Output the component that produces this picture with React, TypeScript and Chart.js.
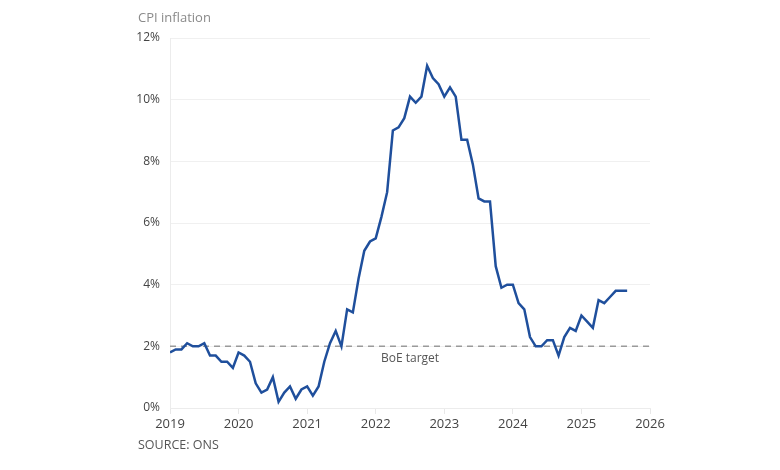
import React, { useEffect, useRef } from "react";
import { Chart, registerables } from "chart.js";

Chart.register(...registerables);

const startYear = 2019;
const cpi: number[] = [
  // 2019
  1.8, 1.9, 1.9, 2.1, 2.0, 2.0, 2.1, 1.7, 1.7, 1.5, 1.5, 1.3,
  // 2020
  1.8, 1.7, 1.5, 0.8, 0.5, 0.6, 1.0, 0.2, 0.5, 0.7, 0.3, 0.6,
  // 2021
  0.7, 0.4, 0.7, 1.5, 2.1, 2.5, 2.0, 3.2, 3.1, 4.2, 5.1, 5.4,
  // 2022
  5.5, 6.2, 7.0, 9.0, 9.1, 9.4, 10.1, 9.9, 10.1, 11.1, 10.7, 10.5,
  // 2023
  10.1, 10.4, 10.1, 8.7, 8.7, 7.9, 6.8, 6.7, 6.7, 4.6, 3.9, 4.0,
  // 2024
  4.0, 3.4, 3.2, 2.3, 2.0, 2.0, 2.2, 2.2, 1.7, 2.3, 2.6, 2.5,
  // 2025
  3.0, 2.8, 2.6, 3.5, 3.4, 3.6, 3.8, 3.8, 3.8,
];
const xTicks: number[] = [2019, 2020, 2021, 2022, 2023, 2024, 2025, 2026];
const yTicks: number[] = [0, 2, 4, 6, 8, 10, 12];
const targetValue = 2;
const targetLabel = "BoE target";
const titleText = "CPI inflation";
const sourceText = "SOURCE: ONS";

const FONT = "'Open Sans', 'DejaVu Sans', sans-serif";

export default function App() {
  const ref = useRef<HTMLCanvasElement | null>(null);

  useEffect(() => {
    if (!ref.current) return;
    const points = cpi.map((v, i) => ({ x: startYear + i / 12, y: v }));

    const targetPlugin = {
      id: "target",
      beforeDatasetsDraw(chart: any) {
        const { ctx, chartArea, scales } = chart;
        const y = scales.y.getPixelForValue(targetValue);
        ctx.save();
        ctx.strokeStyle = "#9a9a9a";
        ctx.lineWidth = 1.5;
        ctx.setLineDash([6, 5]);
        ctx.beginPath();
        ctx.moveTo(chartArea.left, y);
        ctx.lineTo(chartArea.right, y);
        ctx.stroke();
        ctx.setLineDash([]);
        ctx.fillStyle = "#555";
        ctx.font = `12px ${FONT}`;
        ctx.textAlign = "center";
        ctx.textBaseline = "middle";
        ctx.fillText(targetLabel, scales.x.getPixelForValue(2022.5), y + 12);
        ctx.restore();
      },
    };

    const chart = new Chart(ref.current, {
      type: "line",
      data: {
        datasets: [
          {
            data: points,
            borderColor: "#1f4f9c",
            borderWidth: 2.5,
            pointRadius: 0,
            tension: 0,
            fill: false,
          },
        ],
      },
      options: {
        animation: false,
        responsive: false,
        maintainAspectRatio: false,
        parsing: true,
        layout: { padding: { left: 128, right: 130, top: 38, bottom: 30 } },
        plugins: {
          legend: { display: false },
          tooltip: { enabled: false },
          title: { display: false },
        },
        scales: {
          x: {
            type: "linear",
            min: 2019,
            max: 2026,
            afterBuildTicks(scale: any) {
              scale.ticks = xTicks.map((v) => ({ value: v }));
            },
            afterFit(scale: any) {
              scale.height = 32;
            },
            ticks: {
              color: "#444",
              font: { family: FONT, size: 13 },
              padding: 2,
              maxRotation: 0,
              callback: (v: any) => String(v),
            },
            grid: {
              display: true,
              drawOnChartArea: false,
              drawTicks: true,
              tickLength: 6,
              color: "#e8e8e8",
            },
            border: { display: true, color: "#ececec", width: 1 },
          },
          y: {
            min: 0,
            max: 12,
            afterBuildTicks(scale: any) {
              scale.ticks = yTicks.map((v) => ({ value: v }));
            },
            afterFit(scale: any) {
              scale.width = 42;
            },
            ticks: {
              color: "#444",
              font: { family: FONT, size: 12 },
              padding: 10,
              callback: (v: any) => `${v}%`,
            },
            grid: {
              color: "#f0f0f0",
              lineWidth: 1,
              drawTicks: false,
            },
            border: { display: true, color: "#ececec", width: 1 },
          },
        },
      },
      plugins: [targetPlugin],
    });
    return () => chart.destroy();
  }, []);

  return (
    <div style={{ position: "fixed", left: 0, top: 0, width: 780, height: 470, background: "#fff" }}>
      <canvas ref={ref} width={780} height={470} style={{ width: 780, height: 470, display: "block" }} />
      <div
        style={{
          position: "absolute",
          left: 138,
          top: 8,
          fontFamily: FONT,
          fontSize: 13,
          color: "#8a8a8a",
        }}
      >
        {titleText}
      </div>
      <div
        style={{
          position: "absolute",
          left: 138,
          top: 436,
          fontFamily: FONT,
          fontSize: 12.5,
          color: "#555",
        }}
      >
        {sourceText}
      </div>
    </div>
  );
}
